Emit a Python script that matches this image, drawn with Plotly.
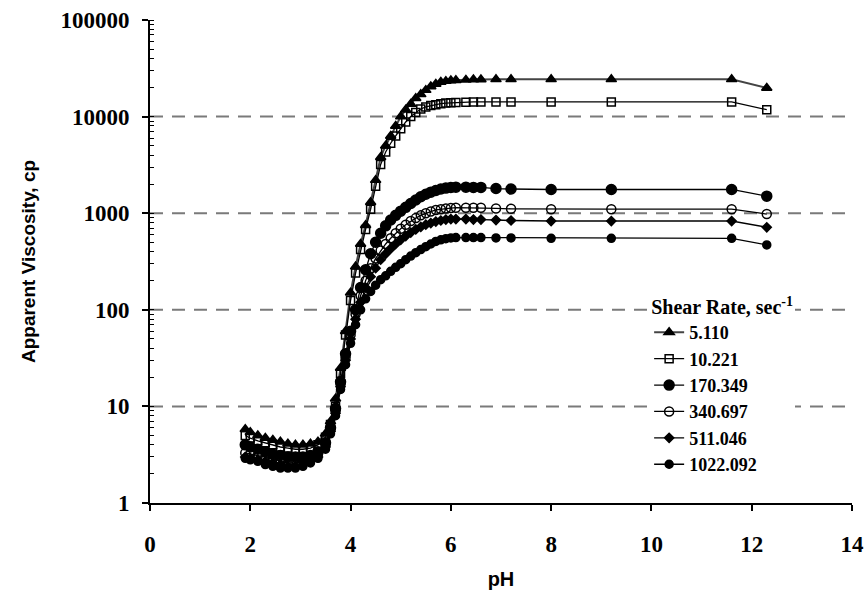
import plotly.graph_objects as go

# pH at which every shear-rate series was measured
ph = [1.9, 2.0, 2.15, 2.3, 2.45, 2.6, 2.75, 2.9, 3.05, 3.2,
      3.35, 3.5, 3.6, 3.7, 3.8, 3.9, 4.0, 4.1, 4.2, 4.3,
      4.4, 4.5, 4.6, 4.7, 4.8, 4.9, 5.0, 5.1, 5.2, 5.3,
      5.4, 5.5, 5.6, 5.7, 5.8, 5.9, 6.0, 6.1, 6.3, 6.45,
      6.6, 6.9, 7.2, 8.0, 9.2, 11.6, 12.3]

# Apparent viscosity (cp) per shear rate (sec^-1)
visc_5110 = [5.8, 5.4, 5.0, 4.7, 4.5, 4.3, 4.1, 4.0, 4.0, 4.1,
             4.3, 5.2, 7.0, 12, 25, 60, 150, 280, 480, 750,
             1300, 2200, 3800, 5000, 6300, 8000, 10000, 11800, 13500, 15500,
             17000, 18800, 20500, 21800, 22800, 23300, 23600, 23800, 24000, 24200,
             24200, 24300, 24300, 24300, 24300, 24300, 19800]
visc_10221 = [5.0, 4.7, 4.4, 4.2, 4.0, 3.8, 3.7, 3.6, 3.6, 3.7,
              4.0, 4.8, 6.5, 10, 22, 55, 125, 240, 420, 680,
              1100, 1900, 3200, 4300, 5300, 6300, 7500, 8800, 10000, 11000,
              12000, 12600, 13000, 13300, 13600, 13800, 13900, 14000, 14100, 14200,
              14200, 14200, 14200, 14200, 14200, 14200, 11800]
visc_170349 = [4.0, 3.8, 3.6, 3.4, 3.2, 3.1, 3.0, 3.0, 3.0, 3.1,
               3.4, 4.2, 6.0, 9.5, 18, 35, 60, 100, 170, 260,
               380, 500, 620, 740, 850, 950, 1050, 1150, 1260, 1370,
               1480, 1570, 1650, 1720, 1780, 1820, 1850, 1860, 1860, 1850,
               1850, 1800, 1780, 1760, 1760, 1760, 1500]
visc_340697 = [3.3, 3.2, 3.1, 3.0, 2.9, 2.7, 2.6, 2.6, 2.7, 2.9,
               3.2, 4.0, 5.8, 9.0, 17, 32, 55, 90, 140, 200,
               270, 340, 410, 480, 550, 620, 690, 760, 830, 890,
               950, 1000, 1040, 1080, 1100, 1120, 1130, 1140, 1140, 1140,
               1140, 1120, 1110, 1100, 1100, 1100, 980]
visc_511046 = [3.0, 2.9, 2.8, 2.7, 2.6, 2.5, 2.4, 2.4, 2.5, 2.7,
               3.0, 3.8, 5.5, 8.5, 16, 30, 50, 80, 120, 170,
               220, 270, 330, 380, 430, 480, 530, 580, 630, 680,
               720, 760, 790, 820, 840, 860, 870, 870, 870, 860,
               860, 850, 840, 830, 830, 830, 715]
visc_1022092 = [2.9, 2.8, 2.7, 2.5, 2.4, 2.3, 2.3, 2.3, 2.4, 2.6,
                2.9, 3.6, 5.2, 8.0, 15, 27, 45, 70, 100, 130,
                155, 180, 205, 225, 250, 275, 300, 330, 360, 390,
                420, 450, 480, 510, 530, 545, 555, 560, 560, 560,
                560, 555, 555, 550, 550, 550, 470]

series_names = ["5.110", "10.221", "170.349", "340.697", "511.046", "1022.092"]
series_values = [visc_5110, visc_10221, visc_170349, visc_340697, visc_511046, visc_1022092]

grid_levels = [10, 100, 1000, 10000]
x_ticks = [0, 2, 4, 6, 8, 10, 12, 14]
y_ticks = [1, 10, 100, 1000, 10000, 100000]

styles = [
    dict(symbol="triangle-up", size=9, line_color="#444444", lw=2.0),
    dict(symbol="square-open", size=8, line_color="black", lw=1.3),
    dict(symbol="circle", size=10, line_color="black", lw=1.3),
    dict(symbol="circle-open", size=9, line_color="black", lw=1.3),
    dict(symbol="diamond", size=7, line_color="black", lw=1.3),
    dict(symbol="circle", size=8, line_color="black", lw=1.3),
]

fig = go.Figure()
for name, vals, st in zip(series_names, series_values, styles):
    fig.add_trace(go.Scatter(
        x=ph, y=vals, name=name, mode="lines+markers",
        line=dict(color=st["line_color"], width=st["lw"]),
        marker=dict(symbol=st["symbol"], size=st["size"], color="black",
                    line=dict(color="black", width=1.5)),
    ))

# dashed horizontal reference lines at each inner decade
for lvl in grid_levels:
    fig.add_shape(type="line", xref="paper", x0=0, x1=1, yref="y", y0=lvl, y1=lvl,
                  line=dict(color="#7a7a7a", width=2, dash="13px,9px"), layer="below")

serif = "Liberation Serif"
sans = "Liberation Sans"
tick_font = dict(family=serif, size=23, color="black", weight="bold")

fig.update_layout(
    width=866, height=604,
    margin=dict(l=150, r=14, t=20, b=101),
    paper_bgcolor="white", plot_bgcolor="white",
    showlegend=True,
    legend=dict(
        title=dict(text="Shear Rate, sec<sup>-1</sup>", side="top center",
                   font=dict(family=serif, size=20, color="black", weight="bold")),
        font=dict(family=serif, size=18, color="black", weight="bold"),
        x=0.815, y=0.445, xanchor="center", yanchor="top",
        bgcolor="white", itemwidth=30, tracegroupgap=0,
    ),
    xaxis=dict(
        range=[0, 14], tickvals=x_ticks, ticktext=[str(v) for v in x_ticks],
        tickfont=tick_font, showgrid=False, zeroline=False, automargin=False,
        showline=True, linecolor="black", linewidth=2,
        ticks="outside", ticklen=6, tickwidth=2, tickcolor="black",
        ticklabelstandoff=13,
        title=dict(text="pH", font=dict(family=sans, size=20, color="black", weight="bold"),
                   standoff=16),
    ),
    yaxis=dict(
        type="log", range=[0, 5], tickvals=y_ticks, ticktext=[str(v) for v in y_ticks],
        tickfont=tick_font, showgrid=False, zeroline=False, automargin=False,
        showline=True, linecolor="black", linewidth=2,
        ticks="outside", ticklen=6, tickwidth=2, tickcolor="black",
        ticklabelstandoff=8,
        minor=dict(ticks="inside", ticklen=4, tickwidth=1, tickcolor="black", showgrid=False, dtick="D1"),
        title=dict(text="Apparent Viscosity, cp",
                   font=dict(family=sans, size=19, color="black", weight="bold"), standoff=20),
    ),
)

fig.write_html("out.html")
